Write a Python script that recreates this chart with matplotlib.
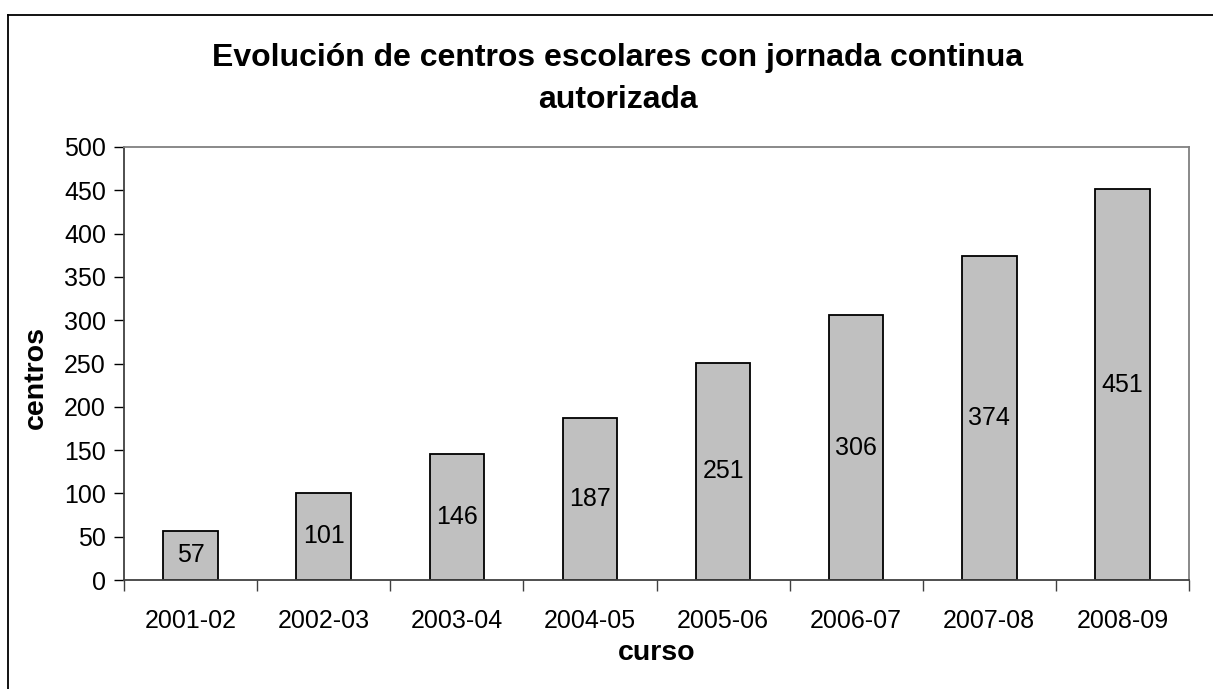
import matplotlib.pyplot as plt
from matplotlib.lines import Line2D

plt.rcParams['font.family'] = ['Liberation Sans', 'DejaVu Sans']

# datos
cursos = ['2001-02', '2002-03', '2003-04', '2004-05', '2005-06', '2006-07', '2007-08', '2008-09']
centros = [57, 101, 146, 187, 251, 306, 374, 451]
yticks = [0, 50, 100, 150, 200, 250, 300, 350, 400, 450, 500]

W, H = 1213, 689
fig = plt.figure(figsize=(W / 100, H / 100), dpi=100)

# marco exterior (solo se ven el borde superior y el izquierdo)
fig.lines.append(Line2D([7.5 / W, 1], [1 - 14.5 / H, 1 - 14.5 / H], transform=fig.transFigure,
                        color='black', linewidth=1.3))
fig.lines.append(Line2D([7.5 / W, 7.5 / W], [0, 1 - 14.5 / H], transform=fig.transFigure,
                        color='black', linewidth=1.3))

ax = fig.add_axes([124 / W, 1 - 580 / H, (1189 - 124) / W, (580 - 147) / H])

x = range(len(cursos))
bars = ax.bar(x, centros, width=0.41, color='#c0c0c0', edgecolor='black', linewidth=1.3)

# etiquetas de valor en el centro de cada barra
for b, v in zip(bars, centros):
    ax.text(b.get_x() + b.get_width() / 2, v / 2, str(v), ha='center', va='center', fontsize=18)

ax.set_xlim(-0.5, len(cursos) - 0.5)
ax.set_ylim(0, 500)
ax.set_yticks(yticks)
ax.set_xticks(list(x))
ax.set_xticklabels(cursos, fontsize=18)
ax.tick_params(axis='y', labelsize=18, direction='out', length=7, width=1, pad=6)
ax.tick_params(axis='x', which='major', length=0, pad=21)
# marcas del eje x entre categorías
ax.set_xticks([i - 0.5 for i in range(len(cursos) + 1)], minor=True)
ax.tick_params(axis='x', which='minor', direction='out', length=8, width=1, color='#404040')

for s in ['top', 'right']:
    ax.spines[s].set_color('#808080')
    ax.spines[s].set_linewidth(1.3)
for s in ['left', 'bottom']:
    ax.spines[s].set_color('#404040')
    ax.spines[s].set_linewidth(1.3)

ax.set_ylabel('centros', fontsize=20.5, fontweight='bold')
ax.yaxis.set_label_coords(-0.071, 0.468)
ax.set_xlabel('curso', fontsize=20.5, fontweight='bold', labelpad=5)

fig.text(618 / W, 1 - 79 / H, 'Evolución de centros escolares con jornada continua\nautorizada',
         ha='center', va='center', fontsize=23, fontweight='bold', linespacing=1.5)

fig.savefig('out.png', dpi=100)
